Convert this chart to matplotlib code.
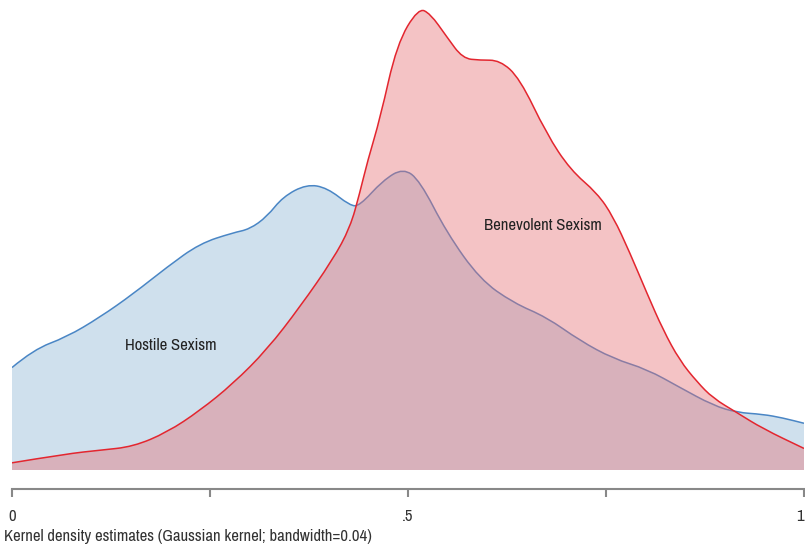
import numpy as np
import matplotlib
matplotlib.use("Agg")
import matplotlib.pyplot as plt
from matplotlib import font_manager
from matplotlib.path import Path
from matplotlib.patches import PathPatch

# pick a narrow face if one is installed
names = sorted({f.name for f in font_manager.fontManager.ttflist})
narrow = [n for n in names if 'Narrow' in n or 'Condensed' in n]
plt.rcParams['font.family'] = (narrow[:1] or ['Liberation Sans']) + ['DejaVu Sans']

# kernel density estimates
hostile_x = [0.0, 0.027, 0.069, 0.111, 0.153, 0.196, 0.237, 0.279, 0.300, 0.322,
             0.342, 0.372, 0.398, 0.427, 0.439, 0.468, 0.494, 0.515, 0.549, 0.591,
             0.633, 0.675, 0.717, 0.759, 0.802, 0.843, 0.885, 0.915, 0.948, 0.973, 1.0]
hostile_y = [0.57, 0.67, 0.74, 0.85, 0.98, 1.13, 1.26, 1.32, 1.34, 1.41,
             1.52, 1.59, 1.57, 1.47, 1.47, 1.61, 1.68, 1.61, 1.32, 1.06,
             0.93, 0.85, 0.72, 0.62, 0.56, 0.46, 0.36, 0.32, 0.31, 0.29, 0.26]

benev_x = [0.0, 0.069, 0.111, 0.153, 0.196, 0.237, 0.279, 0.322, 0.364, 0.405,
           0.427, 0.439, 0.449, 0.465, 0.486, 0.513, 0.528, 0.549, 0.569, 0.591,
           0.616, 0.641, 0.675, 0.705, 0.739, 0.759, 0.780, 0.802, 0.822, 0.843,
           0.865, 0.885, 0.915, 0.948, 1.0]
benev_y = [0.04, 0.09, 0.11, 0.13, 0.21, 0.33, 0.48, 0.67, 0.91, 1.17,
           1.35, 1.54, 1.72, 1.96, 2.37, 2.57, 2.54, 2.41, 2.29, 2.28,
           2.28, 2.18, 1.87, 1.67, 1.54, 1.41, 1.21, 0.98, 0.78, 0.61,
           0.49, 0.40, 0.32, 0.23, 0.12]

xticks = [0, 0.25, 0.5, 0.75, 1]
xticklabels = ['0', '', '.5', '', '1']


def smooth_path(xs, ys, closed):
    # quadratic bezier through midpoints, data points used as control points
    pts = list(zip(xs, ys))
    verts = [pts[0]]
    codes = [Path.MOVETO]
    for i in range(1, len(pts) - 1):
        mid = ((pts[i][0] + pts[i + 1][0]) / 2, (pts[i][1] + pts[i + 1][1]) / 2)
        verts += [pts[i], mid]
        codes += [Path.CURVE3, Path.CURVE3]
    verts.append(pts[-1])
    codes.append(Path.LINETO)
    if closed:
        verts += [(xs[-1], 0), (xs[0], 0), pts[0]]
        codes += [Path.LINETO, Path.LINETO, Path.CLOSEPOLY]
    return Path(verts, codes)


fig = plt.figure(figsize=(8.05, 5.5), dpi=100)
ax = fig.add_axes([12 / 805, 80 / 550, 792 / 805, 470 / 550])

ax.add_patch(PathPatch(smooth_path(hostile_x, hostile_y, True), facecolor='#cfe0ed', lw=0))
ax.add_patch(PathPatch(smooth_path(hostile_x, hostile_y, False), facecolor='none',
                       edgecolor='#4a86c5', lw=1.1))
ax.add_patch(PathPatch(smooth_path(benev_x, benev_y, True),
                       facecolor=(230 / 255, 111 / 255, 116 / 255), alpha=0.41, lw=0))
ax.add_patch(PathPatch(smooth_path(benev_x, benev_y, False), facecolor='none',
                       edgecolor='#e3262f', lw=1.1))

ax.text(0.2, 0.69, 'Hostile Sexism', ha='center', va='center', fontsize=12,
        fontweight='medium', color='#222222')
ax.text(0.67, 1.36, 'Benevolent Sexism', ha='center', va='center', fontsize=12,
        fontweight='medium', color='#222222')

ax.set_xlim(0, 1)
ax.set_ylim(0, 2.615)
for s in ['top', 'left', 'right']:
    ax.spines[s].set_visible(False)
ax.spines['bottom'].set_position(('outward', 14))
ax.spines['bottom'].set_color('#888888')
ax.spines['bottom'].set_linewidth(1.5)
ax.set_yticks([])
ax.set_xticks(xticks)
ax.set_xticklabels(xticklabels)
ax.tick_params(axis='x', direction='out', length=6, width=1.5, color='#888888',
               labelsize=12, labelcolor='#333333', pad=8)
ax.get_xticklabels()[-1].set_horizontalalignment('right')

fig.text(4 / 805, 1 - 537 / 550, 'Kernel density estimates (Gaussian kernel; bandwidth=0.04)',
         ha='left', va='center', fontsize=12, fontweight='medium', color='#333333')

fig.savefig('out.png', dpi=100)
